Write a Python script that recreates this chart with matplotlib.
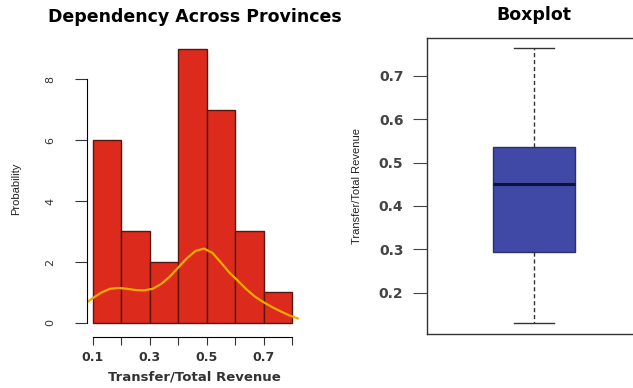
import numpy as np
import matplotlib.pyplot as plt

# histogram counts per bin
bin_edges = [0.1, 0.2, 0.3, 0.4, 0.5, 0.6, 0.7, 0.8]
counts = [6, 3, 2, 9, 7, 3, 1]

# density curve
dens_x = [0.075, 0.10, 0.13, 0.16, 0.19, 0.22, 0.25, 0.28, 0.31, 0.34, 0.37,
          0.40, 0.43, 0.46, 0.49, 0.52, 0.55, 0.58, 0.61, 0.64, 0.67, 0.70,
          0.73, 0.76, 0.79, 0.82]
dens_y = [0.65, 0.82, 1.00, 1.12, 1.15, 1.12, 1.08, 1.07, 1.12, 1.28, 1.52,
          1.82, 2.12, 2.36, 2.44, 2.30, 1.98, 1.65, 1.38, 1.10, 0.86, 0.68,
          0.52, 0.38, 0.25, 0.15]

# boxplot stats
box_whislo = 0.130
box_q1 = 0.293
box_med = 0.451
box_q3 = 0.535
box_whishi = 0.763

W, H = 633, 388
fig = plt.figure(figsize=(W / 100, H / 100), dpi=100)

def rect(l, t, r, b):
    return [l / W, 1 - b / H, (r - l) / W, (b - t) / H]

# ---------------- histogram ----------------
ax1 = fig.add_axes(rect(87, 40, 302, 337))
ax1.bar(bin_edges[:-1], counts, width=0.1, align='edge',
        color='#DC2A1C', edgecolor='#5a1710', linewidth=1.0)
ax1.plot(dens_x, dens_y, color='#F2A900', linewidth=1.6)
ax1.set_xlim(0.079, 0.835)
ax1.set_ylim(-0.46, 9.28)
for s in ['top', 'right']:
    ax1.spines[s].set_visible(False)
ax1.spines['left'].set_bounds(0, 8)
ax1.spines['bottom'].set_bounds(0.1, 0.8)
ax1.set_yticks([0, 2, 4, 6, 8])
ax1.set_yticklabels(['0', '2', '4', '6', '8'], rotation=90, va='center')
ax1.set_xticks(np.arange(1, 9) / 10)
ax1.set_xticklabels(['0.1', '', '0.3', '', '0.5', '', '0.7', ''])
ax1.tick_params(axis='y', length=9, pad=14, labelsize=8, colors='#333333')
ax1.tick_params(axis='x', length=6, pad=4, labelsize=9, colors='#333333')
for lab in ax1.get_xticklabels():
    lab.set_fontweight('bold')
ax1.set_xlabel('Transfer/Total Revenue', fontsize=9.5, fontweight='bold',
               color='#333333', labelpad=5)
ax1.set_ylabel('Probability', fontsize=8, family='Liberation Sans',
               color='#222222', labelpad=17)
ax1.set_title('Dependency Across Provinces', fontsize=12.5, fontweight='bold',
              pad=13)

# ---------------- boxplot ----------------
ax2 = fig.add_axes(rect(427, 38, 641, 334))
ax2.bxp([{'whislo': box_whislo, 'q1': box_q1, 'med': box_med,
          'q3': box_q3, 'whishi': box_whishi, 'fliers': []}],
        positions=[1], widths=0.38, patch_artist=True, showfliers=False,
        boxprops=dict(facecolor='#4049A6', edgecolor='#2a2f70', linewidth=1),
        medianprops=dict(color='#111133', linewidth=2.2),
        whiskerprops=dict(color='#333333', linestyle=(0, (3, 2)), linewidth=1),
        capprops=dict(color='#333333', linewidth=1), capwidths=0.19)
ax2.set_xlim(0.5, 1.5)
ax2.set_ylim(0.105, 0.787)
ax2.set_xticks([])
ax2.set_yticks([0.2, 0.3, 0.4, 0.5, 0.6, 0.7])
ax2.set_yticklabels(['0.2', '0.3', '0.4', '0.5', '0.6', '0.7'])
ax2.tick_params(axis='y', length=10, pad=7, labelsize=10, colors='#444444')
for lab in ax2.get_yticklabels():
    lab.set_fontweight('bold')
for s in ax2.spines.values():
    s.set_color('#333333')
    s.set_linewidth(1)
ax2.set_ylabel('Transfer/Total Revenue', fontsize=8, family='Liberation Sans',
               color='#222222', labelpad=12)
ax2.set_title('Boxplot', fontsize=12.5, fontweight='bold', pad=13)

fig.savefig('out.png', dpi=100)
